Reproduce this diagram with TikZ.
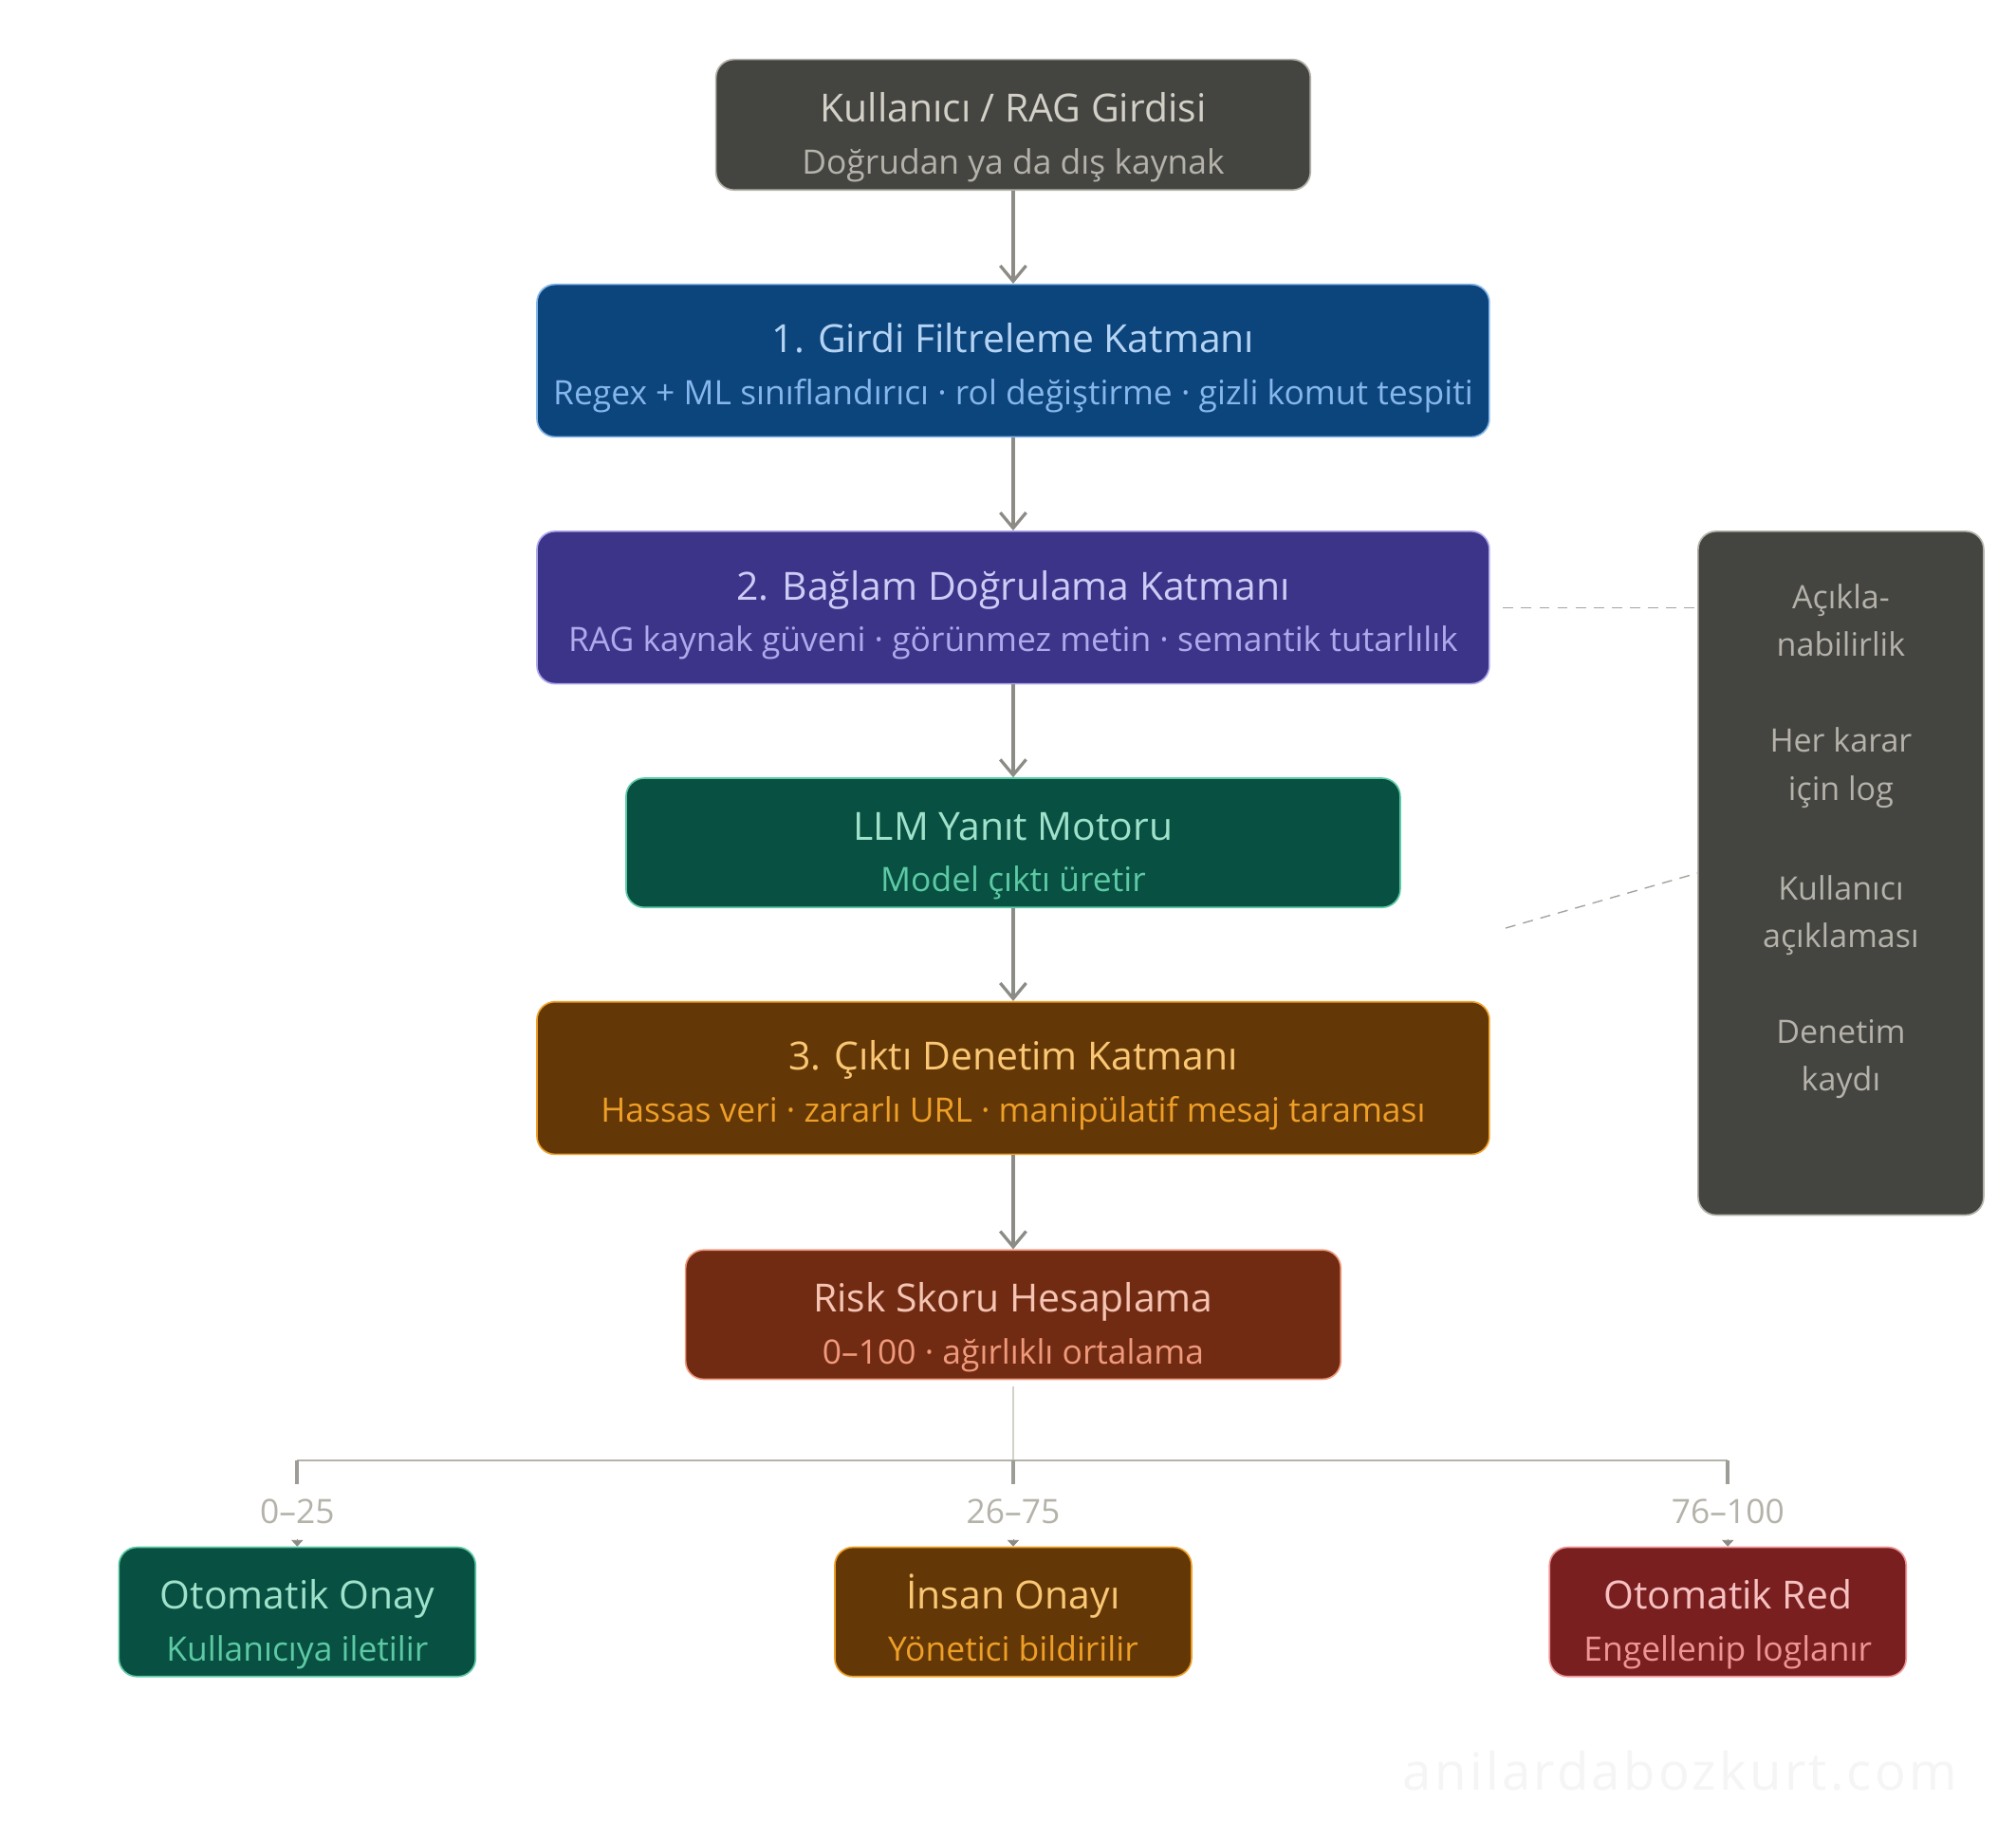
\documentclass[tikz,border=0pt]{standalone}
\usepackage{fontspec}
\setmainfont{Open Sans}
\newfontfamily\imzafont[LetterSpace=6]{Open Sans}
\usetikzlibrary{positioning,arrows.meta}

\definecolor{grifill}{HTML}{444441}
\definecolor{grikenar}{HTML}{B4B2A9}
\definecolor{gribas}{HTML}{D3D1C7}
\definecolor{grialt}{HTML}{B4B2A9}
\definecolor{mavifill}{HTML}{0C447C}
\definecolor{maviacik}{HTML}{85B7EB}
\definecolor{mavibas}{HTML}{B5D4F4}
\definecolor{morfill}{HTML}{3C3489}
\definecolor{moracik}{HTML}{AFA9EC}
\definecolor{morbas}{HTML}{CECBF6}
\definecolor{yesilfill}{HTML}{085041}
\definecolor{yesilacik}{HTML}{5DCAA5}
\definecolor{yesilbas}{HTML}{9FE1CB}
\definecolor{amberfill}{HTML}{633806}
\definecolor{amberacik}{HTML}{EF9F27}
\definecolor{amberbas}{HTML}{FAC775}
\definecolor{riskfill}{HTML}{712B13}
\definecolor{riskacik}{HTML}{F0997B}
\definecolor{riskbas}{HTML}{F5C4B3}
\definecolor{redfill}{HTML}{791F1F}
\definecolor{redacik}{HTML}{F09595}
\definecolor{redbas}{HTML}{F7C1C1}
\definecolor{okgri}{HTML}{8C8B85}
\definecolor{incegri}{HTML}{D3D1C7}

\newcommand{\kbaslik}[3][21.5pt]{{\color{#2}\fontsize{15}{20}\selectfont\rule{0pt}{#1}#3}}
\newcommand{\kalt}[2]{{\color{#1}\fontsize{13}{20}\selectfont #2\rule[-3.5pt]{0pt}{3.5pt}}}

\begin{document}
\begin{tikzpicture}[x=0.5pt,y=-0.5pt,>={Straight Barb[length=6pt,width=10pt]},
	kutu/.style={draw,rounded corners=7pt,line width=0.6pt,align=center,
		inner sep=0pt,font=\fontsize{13}{20}\selectfont},
	genis/.style={kutu,minimum width=368.5pt,minimum height=59pt},
	sonuc/.style={kutu,minimum width=138pt,minimum height=50pt},
	ok/.style={->,draw=okgri,line width=1.2pt},
	kesik/.style={draw=okgri!80,line width=0.5pt,dash pattern=on 4pt off 3pt},
	esik/.style={text=grikenar,font=\fontsize{13}{15}\selectfont}]
\fill[white] (0,0) rectangle (1560,1423);
\useasboundingbox (0,0) rectangle (1560,1423);
% ana akis
\node[kutu,fill=grifill,draw=grikenar,minimum width=230pt,minimum height=50.5pt]
	(girdi) at (784,96.5) {\kbaslik{gribas}{Kullanıcı / RAG Girdisi}\\\kalt{grialt}{Doğrudan ya da dış kaynak}};
\node[genis,fill=mavifill,draw=maviacik] (filtre) at (784,279)
	{\kbaslik[17.5pt]{mavibas}{1. Girdi Filtreleme Katmanı}\\\kalt{maviacik}{Regex + ML sınıflandırıcı · rol değiştirme · gizli komut tespiti}};
\node[genis,fill=morfill,draw=moracik] (baglam) at (784,470)
	{\kbaslik[17.5pt]{morbas}{2. Bağlam Doğrulama Katmanı}\\\kalt{moracik}{RAG kaynak güveni · görünmez metin · semantik tutarlılık}};
\node[kutu,fill=yesilfill,draw=yesilacik,minimum width=299.5pt,minimum height=50pt]
	(llm) at (784,652) {\kbaslik{yesilbas}{LLM Yanıt Motoru}\\\kalt{yesilacik}{Model çıktı üretir}};
\node[genis,fill=amberfill,draw=amberacik] (cikti) at (784,834)
	{\kbaslik[17.5pt]{amberbas}{3. Çıktı Denetim Katmanı}\\\kalt{amberacik}{Hassas veri · zararlı URL · manipülatif mesaj taraması}};
\node[kutu,fill=riskfill,draw=riskacik,minimum width=253.5pt,minimum height=50pt]
	(risk) at (784,1017) {\kbaslik{riskbas}{Risk Skoru Hesaplama}\\\kalt{riskacik}{0–100 · ağırlıklı ortalama}};
\draw[ok] (girdi.south) -- (filtre.north);
\draw[ok] (filtre.south) -- (baglam.north);
\draw[ok] (baglam.south) -- (llm.north);
\draw[ok] (llm.south) -- (cikti.north);
\draw[ok] (cikti.south) -- (risk.north);
% yan panel
\node[kutu,fill=grifill,draw=grikenar,minimum width=110.5pt,minimum height=264.5pt,
	text=grikenar,font=\fontsize{12.5}{18.5}\selectfont] (aciklama) at (1424.5,675.5)
	{Açıkla-\\nabilirlik\\[18.5pt]Her karar\\için log\\[20pt]Kullanıcı\\açıklaması\\[18.5pt]Denetim\\kaydı\\[9pt]};
\coordinate (kesikuc) at (1165,718);
\draw[kesik] ([xshift=5pt]baglam.east) -- (baglam.east -| aciklama.west);
\draw[kesik] (kesikuc) -- (aciklama.west);
% karar dallari
\node[sonuc,fill=yesilfill,draw=yesilacik] (onay) at (230,1247)
	{\kbaslik{yesilbas}{Otomatik Onay}\\\kalt{yesilacik}{Kullanıcıya iletilir}};
\node[sonuc,fill=amberfill,draw=amberacik] (insan) at (784,1247)
	{\kbaslik{amberbas}{İnsan Onayı}\\\kalt{amberacik}{Yönetici bildirilir}};
\node[sonuc,fill=redfill,draw=redacik] (red) at (1337,1247)
	{\kbaslik{redbas}{Otomatik Red}\\\kalt{redacik}{Engellenip loglanır}};
\coordinate (dal) at (784,1130);
\draw[incegri,line width=0.4pt] ([yshift=-2.5pt]risk.south) -- (dal);
\draw[grikenar,line width=0.8pt] (onay.north |- dal) -- (red.north |- dal);
\foreach \k/\e in {onay/0–25,insan/26–75,red/76–100}{
	\draw[okgri!85,line width=1.5pt] (\k.north |- dal) -- ++(0,18);
	\node[esik] (e\k) at (\k.north |- 0,1169) {\e};
	\draw[-{Triangle[length=2.5pt,width=4.5pt]},okgri,line width=0.3pt]
		([yshift=3pt]\k.north) -- (\k.north);
}
\node[text=black!4,font=\imzafont\fontsize{20}{24}\selectfont] (imza) at (1300,1370)
	{anilardabozkurt.com};
\end{tikzpicture}
\end{document}
